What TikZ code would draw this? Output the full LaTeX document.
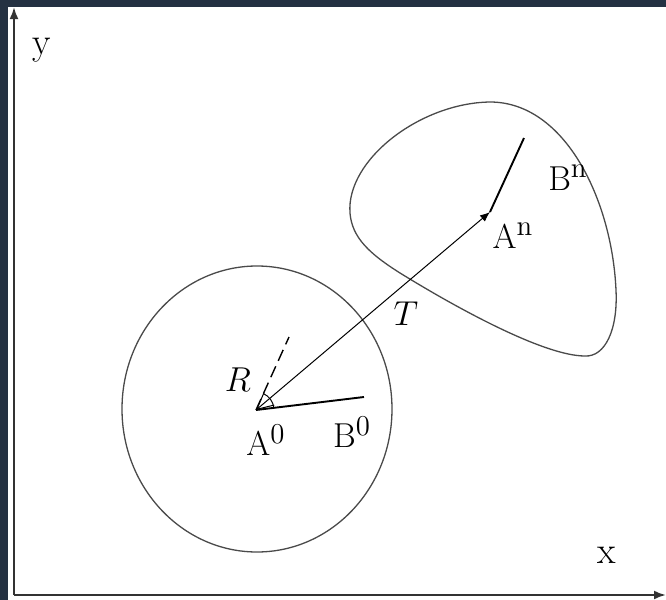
\documentclass[tikz,border=0pt]{standalone}
\usepackage{tikz}
\usetikzlibrary{arrows.meta, positioning}
\definecolor{frameblue}{HTML}{243142}
\definecolor{curvegray}{HTML}{4A4A4A}

\begin{document}
\begin{tikzpicture}[x=0.5pt, y=-0.5pt,
    lbl/.style={font=\fontsize{19}{22}\selectfont, inner sep=0pt},
    axis/.style={line width=1.1pt, draw=black!80, -{Latex[length=6pt, width=4.5pt]}},
    outline/.style={line width=0.65pt, draw=curvegray},
    arm/.style={line width=0.95pt, draw=black}
]
\useasboundingbox (0,0) rectangle (666,600);
\fill[frameblue] (0,0) rectangle (666,600);
\fill[white] (8,7) rectangle (666,600);

% axes
\coordinate (O) at (14,595);
\coordinate (ytip) at (14,7);
\coordinate (xtip) at (666,595);
\draw[axis] (O) -- (ytip);
\draw[axis] (O) -- (xtip);
\node[lbl] (ylab) at (42,50) {y};
\node[lbl] (xlab) at (607,555) {x};

% body before and after
\draw[outline] (257,409) ellipse [x radius=135, y radius=143];
\draw[outline] (350,213) .. controls (346,160) and (420,103) .. (490,102)
    .. controls (565,102) and (612,200) .. (616,290)
    .. controls (618,330) and (605,357) .. (585,356)
    .. controls (545,356) and (460,310) .. (400,273)
    .. controls (370,254) and (352,238) .. cycle;

\coordinate (A0) at (256,410);
\coordinate (An) at (490,212);
\coordinate (B0) at (364,397);
\coordinate (Bn) at (524,138);
\coordinate (Rd) at (289,337);

\draw[line width=0.5pt, {Straight Barb[length=8pt, width=8pt]}-{Latex[length=5pt, width=4pt]}] (A0) -- (An);
\draw[arm] (A0) -- (B0);
\draw[arm] (An) -- (Bn);
\draw[line width=0.7pt, dash pattern=on 6pt off 3pt] (A0) -- (Rd);
\draw[line width=0.5pt] (A0) ++(-7:18) arc[start angle=-7, end angle=-66, radius=18];

\node[lbl] (rlab)  at (238,380) {$R$};
\node[lbl] (tlab)  at (406,314) {$T$};
\node[lbl] (a0lab) at (266,440) {$\mathrm{A}^{0}$};
\node[lbl] (b0lab) at (352,432) {$\mathrm{B}^{0}$};
\node[lbl] (anlab) at (513,236) {$\mathrm{A}^{\mathrm{n}}$};
\node[lbl] (bnlab) at (568,178) {$\mathrm{B}^{\mathrm{n}}$};
\end{tikzpicture}
\end{document}
